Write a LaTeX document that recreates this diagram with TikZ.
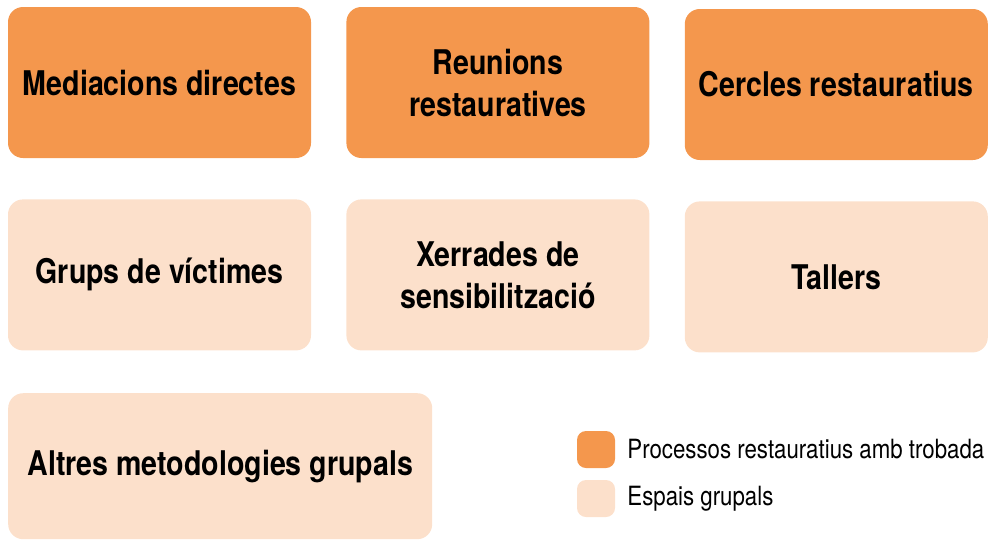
\documentclass[tikz,border=0pt]{standalone}
\usepackage{fontspec}
\setmainfont{TeX Gyre Heros}[FakeStretch=0.84]
\usetikzlibrary{positioning}
\definecolor{procorange}{RGB}{244,151,77}
\definecolor{espaipeach}{RGB}{252,224,203}

\begin{document}
\begin{tikzpicture}[
  x=1pt, y=-1pt,
  node distance=41pt and 35pt,
  mybox/.style={rounded corners=15pt,minimum width=303pt,minimum height=151pt,
    align=center,font=\fontsize{34}{42}\selectfont\bfseries,inner sep=0pt},
  procbox/.style={mybox,fill=procorange},
  espaibox/.style={mybox,fill=espaipeach},
  legbox/.style={rounded corners=9pt,minimum width=38pt,minimum height=37pt,inner sep=0pt},
  legtext/.style={right=12pt,font=\fontsize{26.5}{30}\selectfont,inner sep=0pt}
]
\useasboundingbox (0,0) rectangle (988,541);
\node[procbox] (med) at (159.5,82.5) {Mediacions directes};
\node[procbox,right=of med] (reu) {Reunions\\restauratives};
\node[procbox,right=of reu,yshift=-2pt] (cer) {Cercles restauratius};
\node[espaibox,below=of med] (gru) {Grups de víctimes};
\node[espaibox,right=of gru] (xer) {Xerrades de\\sensibilització};
\node[espaibox,right=of xer,yshift=-2pt] (tal) {Tallers};
\node[espaibox,minimum width=424pt,minimum height=146pt,anchor=north west]
  (alt) at (8,393) {Altres metodologies grupals};
% llegenda
\node[legbox,fill=procorange] (lproc) at (596,449.5) {};
\node[legtext] (tproc) at (lproc.east) {Processos restauratius amb trobada};
\node[legbox,fill=espaipeach] (lesp) at (596,498.5) {};
\node[legtext] (tesp) at (lesp.east) {Espais grupals};
\end{tikzpicture}
\end{document}
